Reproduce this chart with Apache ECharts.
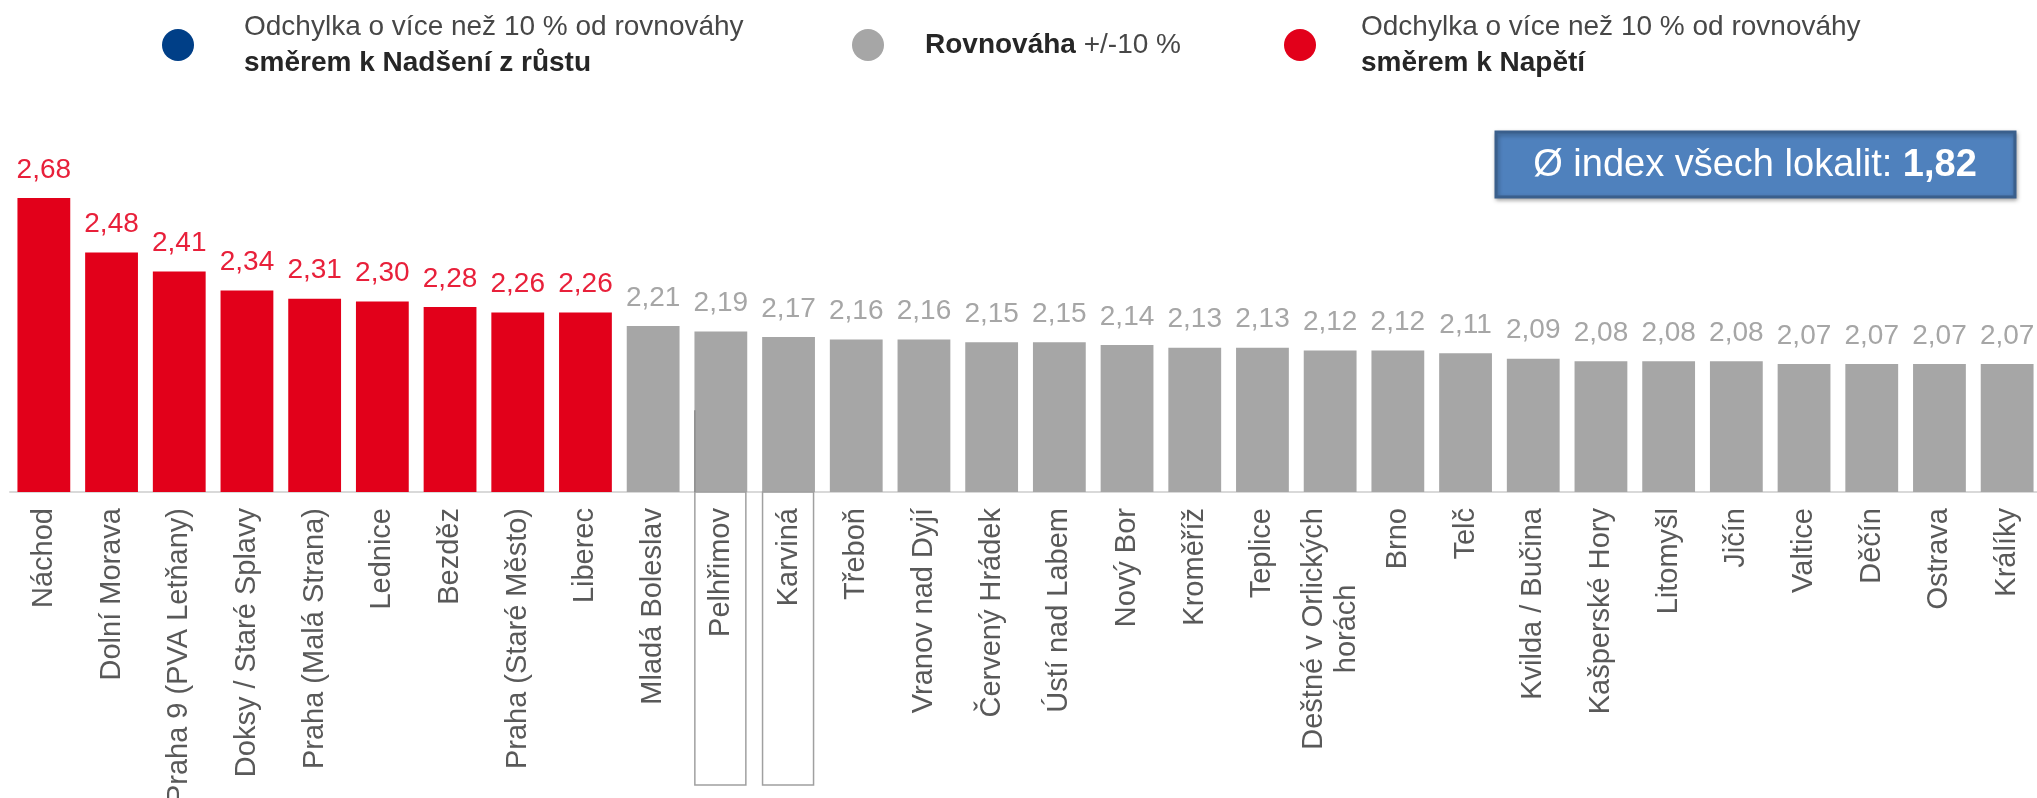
<!DOCTYPE html>
<html>
<head>
<meta charset="utf-8">
<title>Index lokalit</title>
<script src="https://cdn.jsdelivr.net/npm/echarts@6/dist/echarts.min.js"></script>
<style>
  html, body { margin: 0; padding: 0; background: #fff; }
  #main { width: 2037px; height: 798px; }
</style>
</head>
<body>
<div id="main"></div>
<script>
// data
const categories = ['Náchod', 'Dolní Morava', 'Praha 9 (PVA Letňany)', 'Doksy / Staré Splavy', 'Praha (Malá Strana)',
  'Lednice', 'Bezděz', 'Praha (Staré Město)', 'Liberec', 'Mladá Boleslav', 'Pelhřimov', 'Karviná', 'Třeboň',
  'Vranov nad Dyjí', 'Červený Hrádek', 'Ústí nad Labem', 'Nový Bor', 'Kroměříž', 'Teplice', 'Deštné v Orlických\nhorách',
  'Brno', 'Telč', 'Kvilda / Bučina', 'Kašperské Hory', 'Litomyšl', 'Jičín', 'Valtice', 'Děčín', 'Ostrava', 'Králíky'];
const values = [2.68, 2.48, 2.41, 2.34, 2.31, 2.30, 2.28, 2.26, 2.26, 2.21, 2.19, 2.17, 2.16, 2.16, 2.15,
  2.15, 2.14, 2.13, 2.13, 2.12, 2.12, 2.11, 2.09, 2.08, 2.08, 2.08, 2.07, 2.07, 2.07, 2.07];
// skupina pro každou lokalitu
const groups = ['napeti', 'napeti', 'napeti', 'napeti', 'napeti', 'napeti', 'napeti', 'napeti', 'napeti',
  'rovnovaha', 'rovnovaha', 'rovnovaha', 'rovnovaha', 'rovnovaha', 'rovnovaha', 'rovnovaha', 'rovnovaha',
  'rovnovaha', 'rovnovaha', 'rovnovaha', 'rovnovaha', 'rovnovaha', 'rovnovaha', 'rovnovaha', 'rovnovaha',
  'rovnovaha', 'rovnovaha', 'rovnovaha', 'rovnovaha', 'rovnovaha'];
const groupNames = ['nadseni', 'rovnovaha', 'napeti'];
const groupColors = { nadseni: '#003f87', rovnovaha: '#a6a6a6', napeti: '#e2001a' };
const groupLabelColors = { nadseni: '#003f87', rovnovaha: '#a6a6a6', napeti: '#e8203a' };
const highlighted = ['Pelhřimov', 'Karviná'];
const avgIndex = 1.82;

const FONT = '"Liberation Sans", Arial, sans-serif';
const chart = echarts.init(document.getElementById('main'));

function fmt(v) {
  return v.toFixed(2).replace('.', ',');
}

// legenda
const legendTexts = {
  nadseni: '{a|Odchylka o více než 10 % od rovnováhy}\n{b|směrem k Nadšení z růstu}',
  rovnovaha: '{b|Rovnováha}{a| +/-10 %}',
  napeti: '{a|Odchylka o více než 10 % od rovnováhy}\n{b|směrem k Napětí}'
};
// [left, top, šířka ikony]
const legendPos = { nadseni: [162, 13, 122], rovnovaha: [852, 29, 104], napeti: [1284, 13, 112] };
const legends = groupNames.map(function (g) {
  return {
    data: [g],
    left: legendPos[g][0],
    top: legendPos[g][1],
    padding: 0,
    icon: 'circle',
    itemWidth: legendPos[g][2],
    itemHeight: 32,
    selectedMode: false,
    formatter: function (name) { return legendTexts[name]; },
    textStyle: {
      fontFamily: FONT,
      rich: {
        a: { fontSize: 28, color: '#474747', lineHeight: 36, fontFamily: FONT },
        b: { fontSize: 28, color: '#262626', fontWeight: 'bold', lineHeight: 36, fontFamily: FONT }
      }
    }
  };
});

const series = groupNames.map(function (g) {
  return {
    name: g,
    type: 'bar',
    barWidth: '78%',
    barGap: '-100%',
    itemStyle: { color: groupColors[g] },
    label: {
      show: true,
      position: 'top',
      distance: 14,
      color: groupLabelColors[g],
      fontSize: 28,
      fontFamily: FONT,
      formatter: function (p) { return fmt(p.value); }
    },
    data: values.map(function (v, i) { return groups[i] === g ? v : '-'; })
  };
});

let option = {
  animation: false,
  legend: legends,
  grid: { left: 10, width: 2031, top: 111, height: 381, outerBoundsMode: 'none' },
  xAxis: {
    type: 'category',
    data: categories,
    axisTick: { show: false },
    axisLine: { lineStyle: { color: '#d9d9d9', width: 2 } },
    axisLabel: {
      rotate: 90,
      interval: 0,
      margin: 16,
      color: '#595959',
      fontSize: 29,
      fontFamily: FONT,
      formatter: function (v) {
        if (v.indexOf('\n') < 0) return v;
        return v.split('\n').map(function (s) { return '{c|' + s + '}'; }).join('\n');
      },
      rich: {
        c: { align: 'center', color: '#595959', fontSize: 29, lineHeight: 33, fontFamily: FONT }
      }
    }
  },
  yAxis: {
    type: 'value',
    min: 1.6,
    max: 3.0,
    show: false
  },
  series: series
};

chart.setOption(option);

// rámečky kolem vybraných lokalit + průměrný index
const boxH = 293;
const graphics = [];
highlighted.forEach(function (name, k) {
  const i = categories.indexOf(name);
  const p = chart.convertToPixel({ xAxisIndex: 0, yAxisIndex: 0 }, [i, 1.6]);
  graphics.push({
    type: 'rect',
    shape: { x: p[0] - 26, y: p[1], width: 51, height: boxH },
    style: { fill: 'none', stroke: '#a0a0a0', lineWidth: 1.5 },
    z: 10
  });
  if (k === 0) {
    // levá hrana rámečku zasahuje do sloupce
    const top = chart.convertToPixel({ xAxisIndex: 0, yAxisIndex: 0 }, [i, 1.9]);
    graphics.push({
      type: 'line',
      shape: { x1: p[0] - 26, y1: top[1], x2: p[0] - 26, y2: p[1] },
      style: { stroke: '#8c8c8c', lineWidth: 1.5 },
      z: 10
    });
  }
});
graphics.push({
  type: 'rect',
  shape: { x: 1496, y: 132, width: 519, height: 65 },
  style: {
    fill: '#4f81bd', stroke: '#3a5f8c', lineWidth: 3,
    shadowBlur: 4, shadowOffsetX: 1, shadowOffsetY: 2, shadowColor: 'rgba(0,0,0,0.3)'
  },
  z: 10
});
graphics.push({
  type: 'text',
  x: 1755,
  y: 166,
  z: 11,
  style: {
    text: '{a|Ø index všech lokalit: }{b|' + fmt(avgIndex) + '}',
    align: 'center',
    verticalAlign: 'middle',
    rich: {
      a: { fontSize: 38, fill: '#ffffff', fontFamily: FONT },
      b: { fontSize: 38, fill: '#ffffff', fontWeight: 'bold', fontFamily: FONT }
    }
  }
});
chart.setOption({ graphic: graphics });

window.addEventListener('resize', function () {
  chart.resize();
});
</script>
</body>
</html>
